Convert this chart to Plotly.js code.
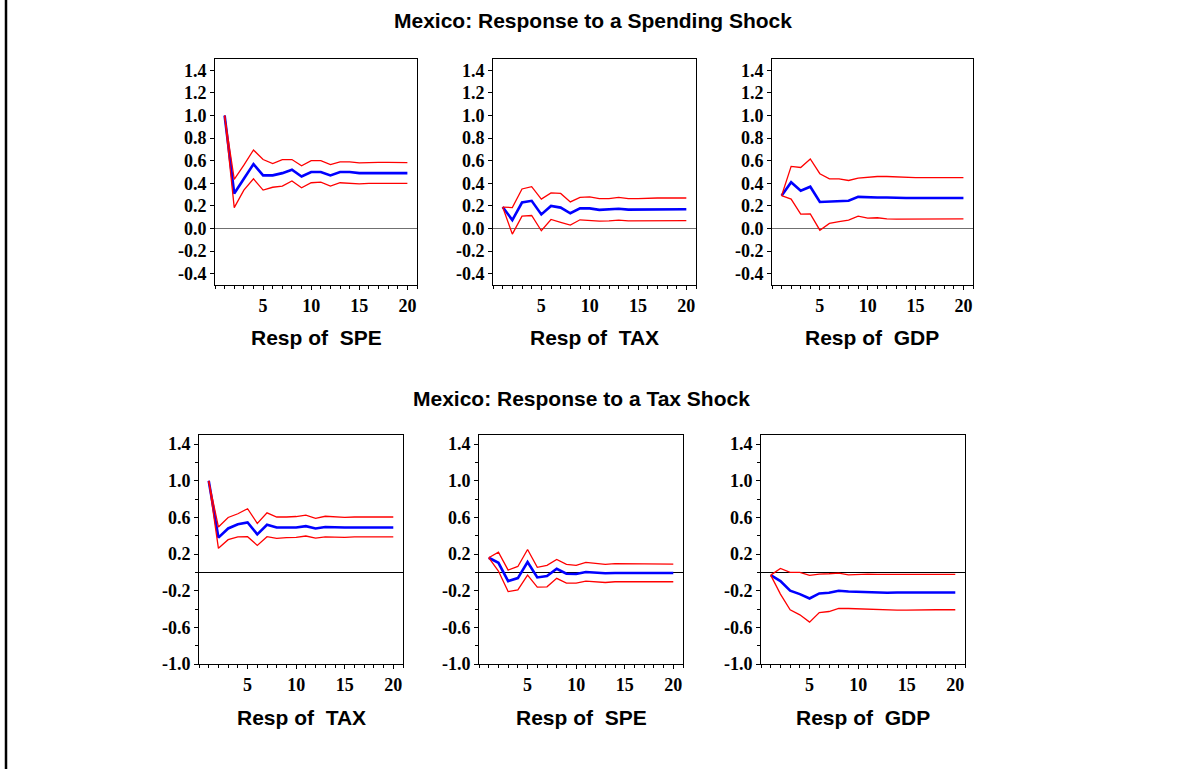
<!DOCTYPE html>
<html>
<head>
<meta charset="utf-8">
<script src="https://cdn.plot.ly/plotly-3.0.1.min.js"></script>
<style>
html,body{margin:0;padding:0;background:#fff;}
#chart{width:1204px;height:769px;}
</style>
</head>
<body>
<div id="chart"></div>
<script>
// ---- data ----
const periods = [1,2,3,4,5,6,7,8,9,10,11,12,13,14,15,16,17,18,19,20];

const titleSpending = "Mexico: Response to a Spending Shock";
const titleTax = "Mexico: Response to a Tax Shock";
const topLabels = ["Resp of  SPE", "Resp of  TAX", "Resp of  GDP"];
const bottomLabels = ["Resp of  TAX", "Resp of  SPE", "Resp of  GDP"];

const xTickVals = [5, 10, 15, 20];
const xTickText = ["5", "10", "15", "20"];
const yTickValsTop = [-0.4, -0.2, 0.0, 0.2, 0.4, 0.6, 0.8, 1.0, 1.2, 1.4];
const yTickTextTop = ["-0.4", "-0.2", "0.0", "0.2", "0.4", "0.6", "0.8", "1.0", "1.2", "1.4"];
const yTickValsBottom = [-1.0, -0.6, -0.2, 0.2, 0.6, 1.0, 1.4];
const yTickTextBottom = ["-1.0", "-0.6", "-0.2", "0.2", "0.6", "1.0", "1.4"];

// Spending shock
const speSpe    = [1.00,0.31,0.44,0.57,0.47,0.47,0.49,0.52,0.46,0.50,0.50,0.47,0.50,0.50,0.49,0.49,0.49,0.49,0.49,0.49];
const speSpeHi  = [1.00,0.435,0.56,0.695,0.61,0.575,0.61,0.61,0.555,0.60,0.60,0.565,0.59,0.59,0.58,0.585,0.585,0.585,0.583,0.583];
const speSpeLo  = [1.00,0.185,0.34,0.44,0.34,0.365,0.375,0.42,0.36,0.405,0.41,0.375,0.405,0.40,0.395,0.40,0.40,0.40,0.40,0.40];

const speTax    = [0.19,0.075,0.23,0.245,0.125,0.20,0.185,0.135,0.178,0.178,0.165,0.17,0.175,0.167,0.167,0.17,0.17,0.17,0.17,0.17];
const speTaxHi  = [0.19,0.185,0.35,0.37,0.26,0.315,0.31,0.235,0.275,0.28,0.265,0.265,0.275,0.265,0.265,0.27,0.27,0.27,0.27,0.27];
const speTaxLo  = [0.19,-0.05,0.11,0.115,-0.02,0.08,0.055,0.03,0.077,0.07,0.065,0.068,0.075,0.068,0.068,0.07,0.07,0.07,0.07,0.07];

const speGdp    = [0.29,0.41,0.335,0.37,0.235,0.24,0.245,0.245,0.28,0.275,0.275,0.275,0.27,0.27,0.27,0.27,0.27,0.27,0.27,0.27];
const speGdpHi  = [0.29,0.55,0.54,0.615,0.485,0.44,0.44,0.425,0.445,0.455,0.46,0.46,0.455,0.455,0.45,0.45,0.45,0.45,0.45,0.45];
const speGdpLo  = [0.29,0.26,0.127,0.13,-0.015,0.045,0.06,0.075,0.11,0.092,0.095,0.085,0.083,0.083,0.083,0.085,0.085,0.085,0.085,0.085];

// Tax shock
const taxTax    = [1.0,0.38,0.48,0.525,0.545,0.415,0.52,0.49,0.49,0.49,0.505,0.48,0.495,0.49,0.49,0.49,0.49,0.49,0.49,0.49];
const taxTaxHi  = [1.0,0.495,0.6,0.64,0.695,0.535,0.65,0.605,0.605,0.61,0.625,0.59,0.613,0.605,0.6,0.605,0.605,0.605,0.605,0.605];
const taxTaxLo  = [1.0,0.263,0.357,0.387,0.39,0.295,0.39,0.372,0.38,0.383,0.397,0.375,0.387,0.383,0.383,0.387,0.387,0.387,0.387,0.387];

const taxSpe    = [0.16,0.105,-0.095,-0.062,0.113,-0.055,-0.04,0.04,-0.015,-0.018,0.004,-0.007,-0.01,-0.007,-0.007,-0.01,-0.007,-0.007,-0.007,-0.007];
const taxSpeHi  = [0.16,0.22,0.025,0.065,0.25,0.055,0.077,0.142,0.087,0.077,0.11,0.095,0.087,0.095,0.095,0.087,0.095,0.09,0.09,0.09];
const taxSpeLo  = [0.16,0.015,-0.21,-0.19,-0.03,-0.16,-0.157,-0.065,-0.117,-0.117,-0.095,-0.102,-0.11,-0.102,-0.102,-0.106,-0.102,-0.102,-0.102,-0.102];

const taxGdp    = [-0.03,-0.095,-0.2,-0.237,-0.285,-0.23,-0.222,-0.2,-0.208,-0.212,-0.215,-0.222,-0.222,-0.219,-0.219,-0.219,-0.219,-0.219,-0.219,-0.219];
const taxGdpHi  = [-0.03,0.044,0.0,0.0,-0.033,-0.018,-0.015,-0.007,-0.026,-0.018,-0.018,-0.022,-0.022,-0.022,-0.022,-0.022,-0.022,-0.022,-0.022,-0.022];
const taxGdpLo  = [-0.03,-0.237,-0.408,-0.463,-0.543,-0.438,-0.427,-0.394,-0.394,-0.398,-0.405,-0.412,-0.416,-0.412,-0.412,-0.408,-0.408,-0.408,-0.408,-0.408];

// ---- layout helpers ----
const W = 1204, H = 769;
const panels = [
  {mid: speSpe, hi: speSpeHi, lo: speSpeLo, x: [215,417], y: [59,285], row: 0},
  {mid: speTax, hi: speTaxHi, lo: speTaxLo, x: [493,696], y: [59,285], row: 0},
  {mid: speGdp, hi: speGdpHi, lo: speGdpLo, x: [772,973], y: [59,285], row: 0},
  {mid: taxTax, hi: taxTaxHi, lo: taxTaxLo, x: [199,403], y: [435,664], row: 1},
  {mid: taxSpe, hi: taxSpeHi, lo: taxSpeLo, x: [479,683], y: [435,664], row: 1},
  {mid: taxGdp, hi: taxGdpHi, lo: taxGdpLo, x: [761,965], y: [435,664], row: 1}
];

const tickFont = {family: "Liberation Serif, Times New Roman, serif", size: 18, color: "#000", weight: "bold"};
const labelFont = {family: "Liberation Sans, Arial, sans-serif", size: 21, color: "#000"};

const traces = [];
const layout = {
  width: W, height: H,
  margin: {l: 0, r: 0, t: 0, b: 0},
  paper_bgcolor: "#fff", plot_bgcolor: "#fff",
  showlegend: false,
  annotations: [],
  shapes: [
    {type: "line", xref: "paper", yref: "paper", x0: 6/W, x1: 6/W, y0: 0, y1: 1,
     line: {color: "#000", width: 2.5}}
  ]
};

panels.forEach((p, i) => {
  const n = i + 1;
  const xa = "x" + (n === 1 ? "" : n);
  const ya = "y" + (n === 1 ? "" : n);
  traces.push({x: periods, y: p.mid, xaxis: xa, yaxis: ya, type: "scatter", mode: "lines",
               line: {color: "#0000ff", width: 2.6}, hoverinfo: "skip"});
  traces.push({x: periods, y: p.hi, xaxis: xa, yaxis: ya, type: "scatter", mode: "lines",
               line: {color: "#ff0000", width: 1.3}, hoverinfo: "skip"});
  traces.push({x: periods, y: p.lo, xaxis: xa, yaxis: ya, type: "scatter", mode: "lines",
               line: {color: "#ff0000", width: 1.3}, hoverinfo: "skip"});

  const xKey = "xaxis" + (n === 1 ? "" : n);
  const yKey = "yaxis" + (n === 1 ? "" : n);
  layout[xKey] = {
    domain: [p.x[0]/W, p.x[1]/W],
    anchor: ya,
    range: [0, 21],
    tickmode: "array", tickvals: xTickVals, ticktext: xTickText,
    ticks: "outside", ticklen: 4, tickwidth: 1, tickcolor: "#000",
    minor: {tickmode: "linear", tick0: 0, dtick: 1, ticks: "outside", ticklen: 3, tickwidth: 1, tickcolor: "#000", showgrid: false},
    showline: true, linecolor: "#000", linewidth: 1, mirror: true,
    showgrid: false, zeroline: false,
    tickfont: tickFont,
    fixedrange: true
  };
  const yTop = p.row === 0;
  layout[yKey] = {
    domain: [1 - p.y[1]/H, 1 - p.y[0]/H],
    anchor: xa,
    range: yTop ? [-0.5, 1.5] : [-1.0, 1.5],
    tickmode: "array",
    tickvals: yTop ? yTickValsTop : yTickValsBottom,
    ticktext: yTop ? yTickTextTop : yTickTextBottom,
    ticks: "outside", ticklen: 4, tickwidth: 1, tickcolor: "#000",
    minor: yTop ? undefined : {tickmode: "linear", tick0: -1.0, dtick: 0.2, ticks: "outside", ticklen: 3, tickwidth: 1, tickcolor: "#000", showgrid: false},
    showline: true, linecolor: "#000", linewidth: 1, mirror: true,
    showgrid: false,
    zeroline: true, zerolinecolor: yTop ? "#707070" : "#000", zerolinewidth: 1,
    tickfont: tickFont,
    fixedrange: true
  };
});

function ann(text, xpx, ypx) {
  return {text: "<b>" + text.replace(/  /g, " \u00a0") + "</b>", xref: "paper", yref: "paper",
          x: xpx / W, y: 1 - ypx / H, xanchor: "center", yanchor: "middle",
          showarrow: false, font: labelFont};
}
layout.annotations.push(ann(titleSpending, 593, 21));
layout.annotations.push(ann(titleTax, 581, 398));
[316, 594, 872].forEach((cx, k) => layout.annotations.push(ann(topLabels[k], cx, 337)));
[301, 581, 863].forEach((cx, k) => layout.annotations.push(ann(bottomLabels[k], cx, 717)));

Plotly.newPlot("chart", traces, layout, {staticPlot: true, displayModeBar: false});
</script>
</body>
</html>
